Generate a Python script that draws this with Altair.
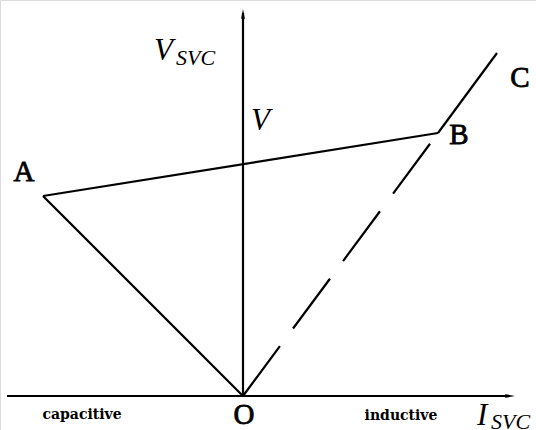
import altair as alt
import pandas as pd

W, H = 536, 430

# Characteristic points (drawing coordinates, y grows downward)
pt_name = ["O", "A", "B", "C"]
pt_x = [243, 43, 438, 497]
pt_y = [396, 196, 133, 53]
P = {n: (x, y) for n, x, y in zip(pt_name, pt_x, pt_y)}

# Axes: start and end of each axis line
axis_x0 = [243, 7]
axis_y0 = [396, 396]
axis_x1 = [243, 510]
axis_y1 = [13, 396]

# Solid segments of the characteristic and the dashed reactor line
solid_from = ["O", "A", "B"]
solid_to = ["A", "B", "C"]
dashed_from = ["O"]
dashed_to = ["B"]

# Point labels
lbl_text = ["A", "B", "C", "O"]
lbl_x = [24, 459, 520, 244]
lbl_y = [172, 135, 78, 415]

xs = alt.Scale(domain=[0, W], nice=False, zero=False)
ys = alt.Scale(domain=[0, H], nice=False, zero=False, reverse=True)


def seg_df(a, b):
    return pd.DataFrame({
        "x": [P[s][0] for s in a], "y": [P[s][1] for s in a],
        "x2": [P[s][0] for s in b], "y2": [P[s][1] for s in b],
    })


def rules(df, **kw):
    return alt.Chart(df).mark_rule(color="black", strokeWidth=2.2, **kw).encode(
        x=alt.X("x:Q", scale=xs, axis=None),
        y=alt.Y("y:Q", scale=ys, axis=None),
        x2="x2:Q", y2="y2:Q",
    )


axes_df = pd.DataFrame({"x": axis_x0, "y": axis_y0, "x2": axis_x1, "y2": axis_y1})
axes = rules(axes_df)
solid = rules(seg_df(solid_from, solid_to))
dashed = rules(seg_df(dashed_from, dashed_to), strokeDash=[62, 22])

# Arrow heads
up_df = pd.DataFrame({"x": [243], "y": [15]})
right_df = pd.DataFrame({"x": [509], "y": [396]})
up = alt.Chart(up_df).mark_point(
    shape="M0,-1L0.33,0.7L0,0.4L-0.33,0.7Z", size=144, filled=True,
    color="black", opacity=1,
).encode(x=alt.X("x:Q", scale=xs), y=alt.Y("y:Q", scale=ys))
right = alt.Chart(right_df).mark_point(
    shape="M1,0L-0.7,0.33L-0.4,0L-0.7,-0.33Z", size=144, filled=True,
    color="black", opacity=1,
).encode(x=alt.X("x:Q", scale=xs), y=alt.Y("y:Q", scale=ys))

SERIF = "Liberation Serif"


def texts(df, font=SERIF, **kw):
    return alt.Chart(df).mark_text(font=font, color="black", **kw).encode(
        x=alt.X("x:Q", scale=xs), y=alt.Y("y:Q", scale=ys), text="t:N"
    )


# Regular serif letters, slightly thickened with a thin outline
letters = texts(pd.DataFrame({"t": lbl_text, "x": lbl_x, "y": lbl_y}),
                fontSize=29, stroke="black", strokeWidth=0.8,
                baseline="middle", align="center")

# Axis titles: V_SVC, V, I_SVC
big_italic = texts(pd.DataFrame({"t": ["V", "V", "I"], "x": [154, 251, 477], "y": [60, 130, 425]}),
                   fontSize=31, fontStyle="italic", baseline="alphabetic", align="left")
sub_italic = texts(pd.DataFrame({"t": ["SVC", "SVC"], "x": [176, 491], "y": [65, 429]}),
                   fontSize=22, fontStyle="italic", baseline="alphabetic", align="left")

side = texts(pd.DataFrame({"t": ["capacitive", "inductive"], "x": [82, 401], "y": [415, 416]}),
             font="DejaVu Serif", fontSize=14, fontWeight="bold", baseline="middle", align="center")

chart = alt.layer(axes, solid, dashed, up, right, letters, big_italic, sub_italic, side).properties(
    width=W, height=H, autosize=alt.AutoSizeParams(type="none"), padding=0
).configure_view(stroke=None).configure(background="white")

chart.save("out.html", embed_options={"renderer": "svg", "actions": False})
